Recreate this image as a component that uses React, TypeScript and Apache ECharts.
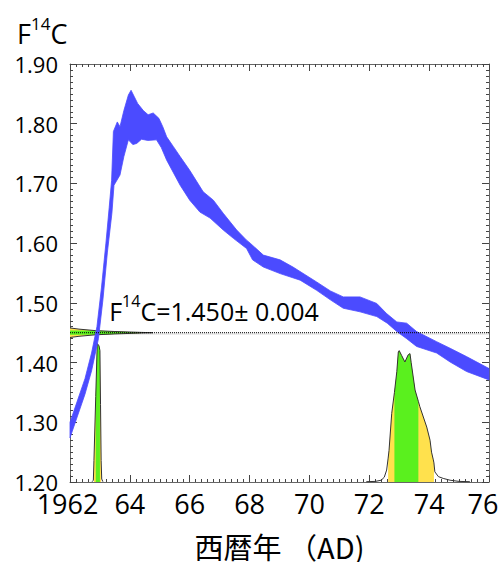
import React, { useEffect, useRef } from "react";
import * as echarts from "echarts";

// ---- axis settings / tick labels ----
const xMin = 1962;
const xMax = 1976;
const xStep = 2;
const yMin = 1.2;
const yMax = 1.9;
const yStep = 0.1;

// ---- measured value ----
const fMeasured = 1.45;
const fError = 0.004;

// ---- calibration curve band (upper / lower edge) ----
const bandUpperYear = [1962.0, 1962.5, 1962.72, 1962.9, 1963.05, 1963.2, 1963.31, 1963.39, 1963.45, 1963.58, 1963.67, 1963.8, 1963.95, 1964.04, 1964.15, 1964.26, 1964.45, 1964.61, 1964.78, 1964.97, 1965.1, 1965.23, 1965.45, 1965.68, 1966.0, 1966.45, 1966.79, 1967.12, 1967.57, 1967.9, 1968.02, 1968.46, 1969.02, 1969.45, 1970.24, 1970.7, 1971.13, 1971.69, 1972.25, 1972.58, 1972.92, 1973.25, 1973.58, 1974.25, 1974.7, 1975.25, 1976.0];
const bandUpperF = [1.3, 1.373, 1.416, 1.46, 1.525, 1.6, 1.66, 1.705, 1.787, 1.803, 1.795, 1.822, 1.848, 1.856, 1.845, 1.834, 1.822, 1.815, 1.818, 1.809, 1.795, 1.778, 1.762, 1.745, 1.722, 1.686, 1.672, 1.65, 1.622, 1.605, 1.6, 1.58, 1.572, 1.56, 1.535, 1.52, 1.51, 1.51, 1.499, 1.482, 1.468, 1.466, 1.452, 1.435, 1.424, 1.41, 1.39];
const bandLowerYear = [1962.0, 1962.5, 1962.72, 1962.95, 1963.1, 1963.25, 1963.4, 1963.47, 1963.67, 1963.8, 1963.95, 1964.1, 1964.23, 1964.39, 1964.6, 1964.89, 1965.05, 1965.23, 1965.68, 1966.0, 1966.34, 1966.68, 1967.12, 1967.46, 1967.9, 1968.1, 1968.46, 1969.02, 1969.69, 1970.24, 1970.7, 1971.13, 1971.69, 1972.25, 1972.6, 1972.92, 1973.25, 1973.58, 1974.25, 1974.7, 1975.25, 1976.0];
const bandLowerF = [1.274, 1.347, 1.386, 1.44, 1.505, 1.585, 1.65, 1.697, 1.714, 1.745, 1.773, 1.765, 1.767, 1.774, 1.772, 1.773, 1.76, 1.739, 1.697, 1.672, 1.652, 1.642, 1.622, 1.608, 1.591, 1.572, 1.56, 1.549, 1.538, 1.521, 1.505, 1.491, 1.485, 1.477, 1.466, 1.452, 1.44, 1.427, 1.416, 1.401, 1.385, 1.371];

// ---- measured F14C distribution (horizontal, length in years from axis) ----
const hDistF = [1.442, 1.444, 1.4465, 1.448, 1.4495, 1.45, 1.4505, 1.452, 1.4535, 1.456, 1.458];
const hDistLen = [0.0, 0.3, 0.85, 1.5, 2.4, 2.77, 2.4, 1.5, 0.85, 0.3, 0.0];
const hGreen = [1.4465, 1.4535];

// ---- calendar-age distribution near 1963 ----
const spikeYear = [1962.74, 1962.78, 1962.8, 1962.86, 1962.91, 1962.97, 1963.0, 1963.02, 1963.04, 1963.06, 1963.1];
const spikeF = [1.2005, 1.203, 1.236, 1.343, 1.432, 1.428, 1.42, 1.33, 1.236, 1.205, 1.2005];
const spikeYellow = [1962.8, 1963.04];
const spikeGreen = [1962.86, 1963.0];

// ---- calendar-age distribution near 1973 ----
const distYear = [1971.9, 1972.2, 1972.4, 1972.5, 1972.58, 1972.63, 1972.66, 1972.75, 1972.84, 1972.92, 1972.97, 1973.0, 1973.08, 1973.19, 1973.3, 1973.36, 1973.4, 1973.53, 1973.64, 1973.69, 1973.92, 1974.03, 1974.08, 1974.14, 1974.16, 1974.19, 1974.31, 1974.47, 1974.7, 1975.0, 1975.36];
const distF = [1.2005, 1.201, 1.203, 1.208, 1.22, 1.24, 1.253, 1.315, 1.35, 1.385, 1.418, 1.42, 1.412, 1.401, 1.413, 1.415, 1.4, 1.354, 1.335, 1.326, 1.292, 1.27, 1.25, 1.237, 1.232, 1.217, 1.209, 1.206, 1.203, 1.201, 1.2005];
const distYellow = [1972.63, 1974.16];
const distGreen = [1972.84, 1973.64];

const BLUE = "#4b4bff";
const GREEN = "#5af01e";
const YELLOW = "#ffe14d";
const OUTLINE = "#333333";
const FONT = "'Open Sans', sans-serif";

function zip(xs: number[], ys: number[]) {
  return xs.map((x, i) => [x, ys[i]]);
}

function polySeries(points: number[][], style: any, z: number, kind = "polygon") {
  return {
    type: "custom",
    coordinateSystem: "cartesian2d",
    silent: true,
    z,
    data: [points[0]],
    renderItem: (_p: any, api: any) => ({
      type: kind,
      shape: { points: points.map((p) => api.coord(p)) },
      style,
    }),
  };
}

function verticalRegion(xs: number[], ys: number[], from: number, to: number) {
  const pts = zip(xs, ys).filter((p) => p[0] >= from - 1e-9 && p[0] <= to + 1e-9);
  return [[pts[0][0], yMin], ...pts, [pts[pts.length - 1][0], yMin]];
}

function horizontalRegion(fs: number[], lens: number[], from: number, to: number) {
  const pts = fs
    .map((f, i) => [xMin + lens[i], f])
    .filter((p) => p[1] >= from - 1e-9 && p[1] <= to + 1e-9);
  return [[xMin, pts[0][1]], ...pts, [xMin, pts[pts.length - 1][1]]];
}

function buildOption() {
  const bandPoly = [...zip(bandUpperYear, bandUpperF), ...zip(bandLowerYear, bandLowerF).reverse()];
  const hAll = horizontalRegion(hDistF, hDistLen, hDistF[0], hDistF[hDistF.length - 1]);
  const hGreenPoly = horizontalRegion(hDistF, hDistLen, hGreen[0], hGreen[1]);
  const hOutline = hDistF.map((f, i) => [xMin + hDistLen[i], f]);

  const axisCommon = {
    type: "value",
    splitLine: { show: false },
    axisLine: { show: true, onZero: false, lineStyle: { color: "#666", width: 1 } },
    axisTick: { show: true, inside: true, length: 7, lineStyle: { color: "#444" } },
    minorTick: { show: true, splitNumber: 10, length: 3, lineStyle: { color: "#444" } },
  };

  const xLabelFont = { fontSize: 27, fontFamily: FONT, color: "#000" };

  return {
    animation: false,
    backgroundColor: "#fff",
    grid: { left: 70, right: 12, top: 64, bottom: 80, containLabel: false, outerBoundsMode: "none" },
    title: {
      text: "{a|F}{s|14}{a|C}",
      left: 12,
      top: 10,
      textStyle: {
        fontWeight: "normal",
        rich: {
          a: { fontSize: 27, fontFamily: FONT, fontWeight: "normal", color: "#000", verticalAlign: "bottom", lineHeight: 32 },
          s: { fontSize: 17, fontFamily: FONT, fontWeight: "normal", color: "#000", verticalAlign: "top", lineHeight: 32 },
        },
      },
    },
    xAxis: [
      {
        ...axisCommon,
        min: xMin,
        max: xMax,
        interval: xStep,
        position: "bottom",
        axisLabel: {
          show: true,
          ...xLabelFont,
          margin: 8,
          formatter: (v: number) =>
            v === xMin ? "{f|" + v + "}" : v === xMax ? "{l|" + (v - 1900) + "}" : "{n|" + (v - 1900) + "}",
          rich: {
            f: { ...xLabelFont, padding: [0, 5, 0, 0] },
            n: { ...xLabelFont },
            l: { ...xLabelFont, padding: [0, 12, 0, 0] },
          },
        },
        name: "西暦年 （AD)",
        nameLocation: "middle",
        nameGap: 49,
        nameTextStyle: { fontSize: 29, lineHeight: 29, color: "#000", fontFamily: "'Noto Sans CJK JP', sans-serif" },
      },
      {
        ...axisCommon,
        min: xMin,
        max: xMax,
        interval: xStep,
        position: "top",
        axisLabel: { show: false },
      },
    ],
    yAxis: [
      {
        ...axisCommon,
        min: yMin,
        max: yMax,
        interval: yStep,
        position: "left",
        axisLabel: {
          show: true,
          fontSize: 22,
          fontFamily: FONT,
          color: "#000",
          margin: 12,
          formatter: (v: number) => v.toFixed(2),
        },
      },
      {
        ...axisCommon,
        min: yMin,
        max: yMax,
        interval: yStep,
        position: "right",
        axisLabel: { show: false },
      },
    ],
    series: [
      polySeries(
        [[xMin, fMeasured - fError], [xMax, fMeasured - fError], [xMax, fMeasured + 0.0005], [xMin, fMeasured + 0.0005]],
        { fill: "#ececec", stroke: "none" },
        1
      ),
      polySeries(hAll, { fill: YELLOW, stroke: "none" }, 2),
      polySeries(hGreenPoly, { fill: GREEN, stroke: "none" }, 3),
      polySeries(hOutline, { fill: "none", stroke: OUTLINE, lineWidth: 1 }, 4, "polyline"),
      polySeries(verticalRegion(spikeYear, spikeF, spikeYellow[0], spikeYellow[1]), { fill: YELLOW, stroke: "none" }, 2),
      polySeries(verticalRegion(spikeYear, spikeF, spikeGreen[0], spikeGreen[1]), { fill: GREEN, stroke: "none" }, 3),
      polySeries(zip(spikeYear, spikeF), { fill: "none", stroke: OUTLINE, lineWidth: 1 }, 4, "polyline"),
      polySeries(verticalRegion(distYear, distF, distYellow[0], distYellow[1]), { fill: YELLOW, stroke: "none" }, 2),
      polySeries(verticalRegion(distYear, distF, distGreen[0], distGreen[1]), { fill: GREEN, stroke: "none" }, 3),
      polySeries(zip(distYear, distF), { fill: "none", stroke: OUTLINE, lineWidth: 1 }, 4, "polyline"),
      polySeries(bandPoly, { fill: BLUE, stroke: BLUE, lineWidth: 0.8 }, 5),
      polySeries([[xMin, fMeasured], [xMax, fMeasured]], { fill: "none", stroke: "#000", lineWidth: 1, lineDash: [1, 1] }, 6, "polyline"),
      {
        type: "custom",
        coordinateSystem: "cartesian2d",
        silent: true,
        z: 7,
        data: [[1963.31, 1.491]],
        renderItem: (_p: any, api: any) => {
          const c = api.coord([1963.31, 1.491]);
          return {
            type: "text",
            x: c[0],
            y: c[1],
            style: {
              text: "{a|F}{s|14}{a|C=1.450± 0.004}",
              verticalAlign: "middle",
              align: "left",
              rich: {
                a: { fontSize: 25, fontFamily: FONT, fill: "#000", verticalAlign: "bottom", lineHeight: 30 },
                s: { fontSize: 16, fontFamily: FONT, fill: "#000", verticalAlign: "top", lineHeight: 30 },
              },
            },
          };
        },
      },
    ],
  };
}

export default function App() {
  const ref = useRef<HTMLDivElement>(null);
  useEffect(() => {
    document.body.style.margin = "0";
    const chart = echarts.init(ref.current!, null, { renderer: "svg" });
    chart.setOption(buildOption() as any);
    return () => chart.dispose();
  }, []);
  return <div ref={ref} style={{ width: 501, height: 562 }} />;
}
